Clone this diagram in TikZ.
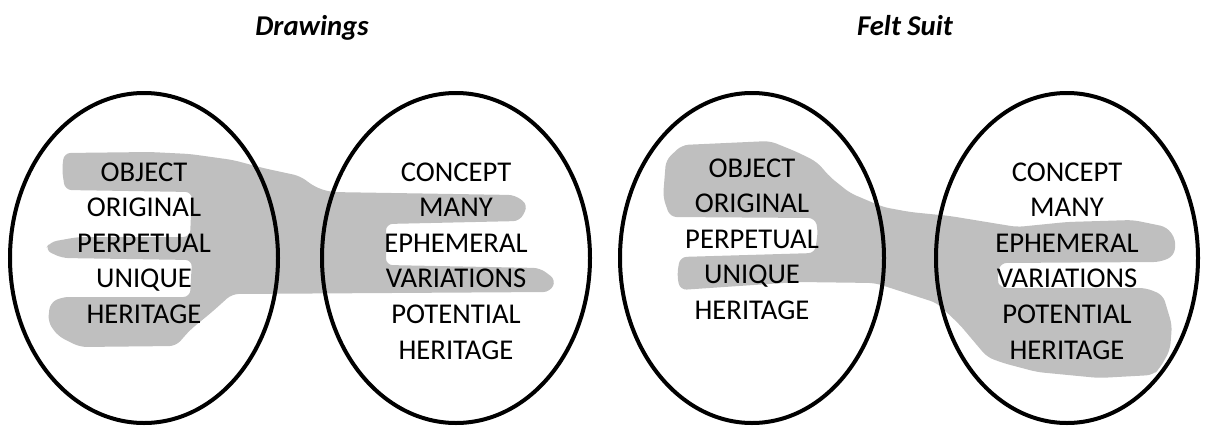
\documentclass[tikz,border=0pt]{standalone}
\usepackage{fontspec}
\setmainfont{Carlito}
\usepackage{tikz}

\begin{document}
\begin{tikzpicture}[x=0.75pt,y=-0.75pt,
  ring/.style={line width=3pt},
  blob/.style={fill=black!25,rounded corners=5pt},
  word/.style={anchor=base,inner sep=0pt,font=\fontsize{21.5}{26}\selectfont},
  heading/.style={anchor=base,inner sep=0pt,font=\fontsize{21.5}{26}\selectfont\bfseries\itshape}]
  \useasboundingbox (0,0) rectangle (1210,425);
  % headings
  \node[heading] (drawings) at (312,35) {Drawings};
  \node[heading] (feltsuit) at (905,35) {Felt Suit};
  % grey hand, drawings
  \fill[blob] (64,153) -- (150,152) -- (190,154) -- (233,160) -- (263,168)
    -- (300,176) -- (315,187) -- (330,192) -- (515,195) -- (528,205)
    -- (520,221) -- (386,224) -- (386,265) -- (540,268) -- (556,280)
    -- (550,292) -- (232,294) -- (212,312) -- (190,330) -- (176,346)
    -- (80,347) -- (58,336) -- (48,322) -- (50,303) -- (62,297)
    -- (190,297) -- (192,260) -- (62,258) -- (45,250) -- (50,242)
    -- (78,237) -- (190,237) -- (192,192) -- (65,190) -- (62,170) -- cycle;
  % grey hand, felt suit
  \fill[blob] (682,145) -- (770,141) -- (797,152) -- (817,162) -- (830,177)
    -- (850,193) -- (883,207) -- (910,212) -- (950,216) -- (1017,227)
    -- (1067,222) -- (1133,220) -- (1167,227) -- (1176,240) -- (1174,256)
    -- (1160,262) -- (1000,263) -- (997,280) -- (1000,288) -- (1146,288)
    -- (1163,295) -- (1172,325) -- (1170,350) -- (1160,368) -- (1153,375)
    -- (1099,378) -- (1037,372) -- (1003,363) -- (987,357) -- (960,325)
    -- (937,303) -- (875,283) -- (798,282) -- (680,290) -- (677,275)
    -- (680,257) -- (815,253) -- (818,230) -- (815,218) -- (670,217)
    -- (663,197) -- (666,160) -- cycle;
  % rings
  \draw[ring] (144,258) ellipse [x radius=134, y radius=165];
  \draw[ring] (456,258) ellipse [x radius=134, y radius=165];
  \draw[ring] (752,258) ellipse [x radius=132, y radius=165];
  \draw[ring] (1067,258) ellipse [x radius=131, y radius=165];
  % words
  \foreach \w [count=\i] in {OBJECT,ORIGINAL,PERPETUAL,UNIQUE,HERITAGE}
    \node[word] (dobj\i) at (144,181+35.6*\i-35.6) {\w};
  \foreach \w [count=\i] in {CONCEPT,MANY,EPHEMERAL,VARIATIONS,POTENTIAL,HERITAGE}
    \node[word] (dcon\i) at (456,181+35.6*\i-35.6) {\w};
  \foreach \w [count=\i] in {OBJECT,ORIGINAL,PERPETUAL,UNIQUE,HERITAGE}
    \node[word] (fobj\i) at (752,177+35.6*\i-35.6) {\w};
  \foreach \w [count=\i] in {CONCEPT,MANY,EPHEMERAL,VARIATIONS,POTENTIAL,HERITAGE}
    \node[word] (fcon\i) at (1067,181+35.6*\i-35.6) {\w};
\end{tikzpicture}
\end{document}
